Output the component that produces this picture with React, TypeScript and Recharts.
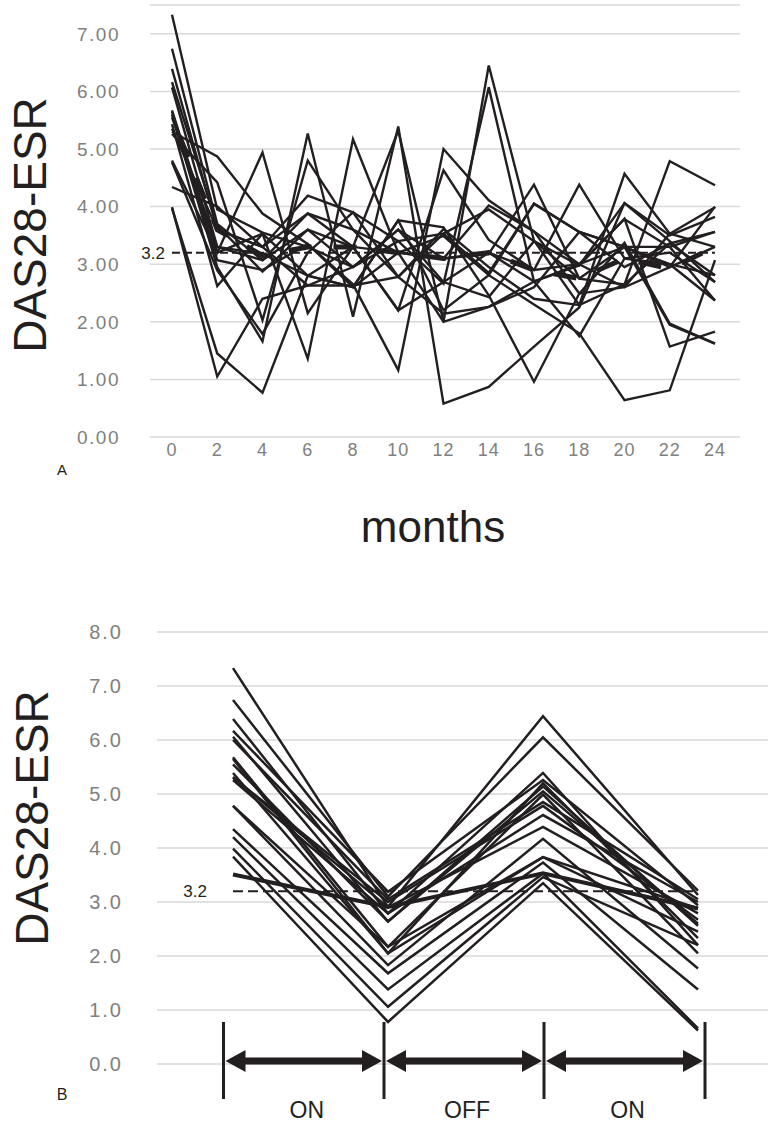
import React from 'react';
import { LineChart, Line, XAxis, YAxis, CartesianGrid, ReferenceLine } from 'recharts';

const FONT = '"Liberation Sans", Arial, sans-serif';
const INK = '#231f20';
const GRID = '#d9d9d9';
const TICK = '#808080';

// ---- panel A: DAS28-ESR per patient over 24 months ----
const MONTHS = [0, 2, 4, 6, 8, 10, 12, 14, 16, 18, 20, 22, 24];
const Y_TICKS_A = [0, 1, 2, 3, 4, 5, 6, 7];
const THRESHOLD = 3.2;

const P01 = [7.33, 3.95, 3.55, 3.3, 2.95, 3.6, 3.1, 3.2, 2.9, 3.0, 3.3, 3.0, 2.81];
const P02 = [6.74, 3.7, 3.07, 3.88, 3.6, 2.78, 3.53, 2.85, 4.05, 3.56, 2.95, 3.36, 3.56];
const P03 = [6.39, 3.6, 3.3, 4.19, 3.9, 3.4, 2.66, 6.07, 2.7, 2.98, 3.79, 1.57, 1.83];
const P04 = [6.16, 3.67, 2.87, 3.6, 3.3, 5.32, 2.0, 6.45, 3.41, 2.29, 4.57, 3.53, 3.99];
const P05 = [6.07, 3.3, 3.18, 2.8, 2.6, 3.76, 3.64, 2.46, 0.96, 2.49, 3.37, 1.97, 1.62];
const P06 = [5.67, 3.2, 4.94, 2.15, 3.3, 2.2, 4.63, 3.42, 2.9, 4.38, 3.1, 3.2, 2.69];
const P07 = [5.6, 2.95, 1.66, 5.27, 2.09, 5.39, 0.58, 0.87, 1.57, 2.25, 4.06, 3.5, 3.82];
const P08 = [5.43, 2.62, 3.53, 1.36, 5.17, 3.2, 3.1, 3.18, 4.38, 2.75, 2.65, 4.79, 4.37];
const P09 = [5.3, 4.87, 3.88, 3.35, 2.65, 1.16, 5.0, 4.11, 3.57, 3.0, 2.6, 2.95, 3.3];
const P10 = [5.26, 4.42, 2.03, 4.8, 3.6, 3.2, 3.49, 2.81, 2.3, 1.8, 0.64, 0.81, 3.07];
const P11 = [4.77, 2.89, 1.79, 3.2, 3.9, 2.78, 2.14, 2.26, 2.6, 3.56, 3.3, 3.3, 2.37];
const P12 = [4.34, 4.0, 3.3, 2.63, 2.95, 3.6, 2.69, 2.43, 3.4, 2.75, 3.3, 1.95, 1.62];
const P13 = [3.99, 1.05, 2.4, 2.63, 2.63, 2.78, 3.61, 2.95, 2.4, 2.29, 2.65, 3.36, 2.81];
const P14 = [3.97, 1.45, 0.77, 2.8, 3.3, 3.2, 2.0, 2.26, 2.7, 3.0, 3.78, 3.3, 3.56];
const P15 = [5.55, 3.3, 3.07, 3.6, 2.95, 3.4, 3.53, 3.95, 3.4, 2.98, 4.06, 3.4, 2.69];
const P16 = [5.65, 3.07, 2.9, 3.35, 2.6, 3.76, 2.2, 2.81, 4.05, 3.56, 3.3, 2.95, 4.0];
const P17 = [5.35, 3.6, 3.3, 3.88, 3.3, 2.2, 2.69, 3.2, 2.7, 1.75, 3.1, 3.0, 2.37];
const P18 = [4.8, 3.2, 3.53, 2.8, 2.6, 3.2, 3.1, 4.02, 3.57, 2.49, 2.6, 3.53, 3.3];
const MEAN_A = [5.55, 3.6, 3.15, 3.3, 3.3, 3.2, 3.1, 3.2, 2.9, 2.75, 3.1, 2.92, 3.3];

const PATIENTS_A = [P01, P02, P03, P04, P05, P06, P07, P08, P09, P10, P11, P12, P13, P14, P15, P16, P17, P18];

// ---- panel B: value at the end of each phase (ON / OFF / ON) ----
const PHASES = [0, 1, 2, 3];
const Y_TICKS_B = [0, 1, 2, 3, 4, 5, 6, 7, 8];
const ON_START = [7.33, 6.74, 6.39, 6.17, 6.06, 5.68, 5.39, 5.31, 5.26, 5.31, 4.78, 4.78, 4.35, 4.2, 3.99, 3.84, 3.51, 5.55, 6.0, 5.65];
const ON_END = [2.91, 3.1, 2.79, 3.19, 2.64, 2.17, 2.05, 3.0, 2.79, 2.9, 1.83, 2.17, 1.68, 1.38, 1.06, 0.78, 2.91, 2.64, 3.05, 2.05];
const OFF_END = [6.44, 6.05, 5.39, 5.26, 5.14, 4.99, 5.2, 4.78, 4.61, 4.39, 4.17, 3.83, 3.73, 3.53, 3.46, 3.35, 3.53, 5.05, 4.85, 3.83];
const ON2_END = [3.13, 3.21, 2.2, 2.94, 2.56, 2.05, 2.33, 2.67, 3.0, 2.79, 1.77, 2.88, 1.38, 0.66, 2.2, 0.62, 2.88, 2.6, 3.05, 2.45];
const THICK_B = 16;
const PHASE_LABELS = ['ON', 'OFF', 'ON'];

const dataA = MONTHS.map((m, i) => {
  const row: Record<string, number> = { m, mean: MEAN_A[i] };
  PATIENTS_A.forEach((p, k) => { row[`p${k}`] = p[i]; });
  return row;
});

const dataB = [ON_START, ON_END, OFF_END, ON2_END].map((vals, i) => {
  const row: Record<string, number> = { x: PHASES[i] };
  vals.forEach((v, k) => { row[`p${k}`] = v; });
  return row;
});

// arrow bar positions (page px) for panel B annotations
const BARS = [223.5, 384, 544, 705];
const ARROW_Y = 1061;

function arrowPoints(a: number, b: number, y: number) {
  const t1 = a + 2, t2 = b - 2, hl = 20, hw = 11, sw = 3.5;
  return [
    [t1, y], [t1 + hl, y - hw], [t1 + hl, y - sw], [t2 - hl, y - sw], [t2 - hl, y - hw],
    [t2, y], [t2 - hl, y + hw], [t2 - hl, y + sw], [t1 + hl, y + sw], [t1 + hl, y + hw],
  ].map(p => p.join(',')).join(' ');
}

export default function App() {
  const tickA = { fill: TICK, fontSize: 19, fontFamily: FONT, letterSpacing: 1.5 };
  const tickB = { fill: TICK, fontSize: 20, fontFamily: FONT, letterSpacing: 2 };

  return (
    <div style={{ position: 'absolute', left: 0, top: 0, width: 768, height: 1126, overflow: 'hidden', background: '#fff', fontFamily: FONT }}>
      {/* Panel A */}
      <div style={{ position: 'absolute', left: 0, top: 0 }}>
        <LineChart width={768} height={480} data={dataA} margin={{ top: 5, right: 28, bottom: 13, left: 0 }}>
          <CartesianGrid vertical={false} stroke={GRID} strokeWidth={1.5} />
          <XAxis
            dataKey="m"
            type="number"
            domain={[0, 24]}
            ticks={MONTHS}
            padding={{ left: 22, right: 25 }}
            axisLine={false}
            tickLine={false}
            tickSize={0}
            tickMargin={6}
            height={30}
            tick={{ fill: TICK, fontSize: 18, fontFamily: FONT, letterSpacing: 1 }}
          />
          <YAxis
            domain={[0, 7.5]}
            ticks={Y_TICKS_A}
            width={150}
            axisLine={false}
            tickLine={false}
            tickSize={0}
            tickMargin={30}
            tick={tickA}
            tickFormatter={(v: number) => v.toFixed(2)}
          />
          <ReferenceLine
            segment={[{ x: 0, y: THRESHOLD }, { x: 24, y: THRESHOLD }]}
            stroke={INK}
            strokeWidth={2}
            strokeDasharray="8 4"
            label={{ value: '3.2', position: 'left', offset: 7, fontSize: 17, fill: INK, fontFamily: FONT }}
          />
          {PATIENTS_A.map((_, k) => (
            <Line key={k} dataKey={`p${k}`} stroke={INK} strokeWidth={2.4} dot={false} isAnimationActive={false} />
          ))}
          <Line dataKey="mean" stroke={INK} strokeWidth={5} strokeDasharray="23 22" strokeDashoffset={-20} dot={false} isAnimationActive={false} />
        </LineChart>
      </div>

      {/* Panel B */}
      <div style={{ position: 'absolute', left: 0, top: 600 }}>
        <LineChart width={800} height={500} data={dataB} margin={{ top: 32, right: 10, bottom: 36, left: 0 }}>
          <CartesianGrid vertical={false} stroke={GRID} strokeWidth={1.5} />
          <XAxis dataKey="x" type="number" domain={[0, 3]} padding={{ left: 76, right: 92 }} hide />
          <YAxis
            domain={[0, 8]}
            ticks={Y_TICKS_B}
            width={157}
            axisLine={false}
            tickLine={false}
            tickSize={0}
            tickMargin={34}
            tick={tickB}
            tickFormatter={(v: number) => v.toFixed(1)}
          />
          <ReferenceLine
            segment={[{ x: 0, y: THRESHOLD }, { x: 3, y: THRESHOLD }]}
            stroke={INK}
            strokeWidth={2}
            strokeDasharray="10 5"
            label={{ value: '3.2', position: 'left', offset: 26, fontSize: 17, fill: INK, fontFamily: FONT }}
          />
          {ON_START.map((_, k) => (
            <Line
              key={k}
              dataKey={`p${k}`}
              stroke={INK}
              strokeWidth={k === THICK_B ? 4 : 2.5}
              dot={false}
              isAnimationActive={false}
            />
          ))}
        </LineChart>
      </div>

      {/* annotations */}
      <svg width={768} height={1126} style={{ position: 'absolute', left: 0, top: 0, pointerEvents: 'none' }}>
        <text x={30} y={225} transform="rotate(-90 30 225)" textAnchor="middle" dominantBaseline="central" fontSize={46} fill={INK} fontFamily={FONT}>DAS28-ESR</text>
        <text x={62} y={475} textAnchor="middle" fontSize={15} fill={INK} fontFamily={FONT}>A</text>
        <text x={433} y={542} textAnchor="middle" fontSize={44} fill={INK} fontFamily={FONT}>months</text>

        <text x={32} y={818} transform="rotate(-90 32 818)" textAnchor="middle" dominantBaseline="central" fontSize={46} fill={INK} fontFamily={FONT}>DAS28-ESR</text>
        <text x={62} y={1100} textAnchor="middle" fontSize={16} fill={INK} fontFamily={FONT}>B</text>

        {BARS.map(x => (
          <line key={x} x1={x} x2={x} y1={1022} y2={1099} stroke={INK} strokeWidth={3} />
        ))}
        {PHASE_LABELS.map((lab, i) => (
          <g key={i}>
            <polygon points={arrowPoints(BARS[i], BARS[i + 1], ARROW_Y)} fill={INK} />
            <text x={(BARS[i] + BARS[i + 1]) / 2 + 3} y={1118} textAnchor="middle" fontSize={23} fill={INK} fontFamily={FONT}>{lab}</text>
          </g>
        ))}
      </svg>
    </div>
  );
}
